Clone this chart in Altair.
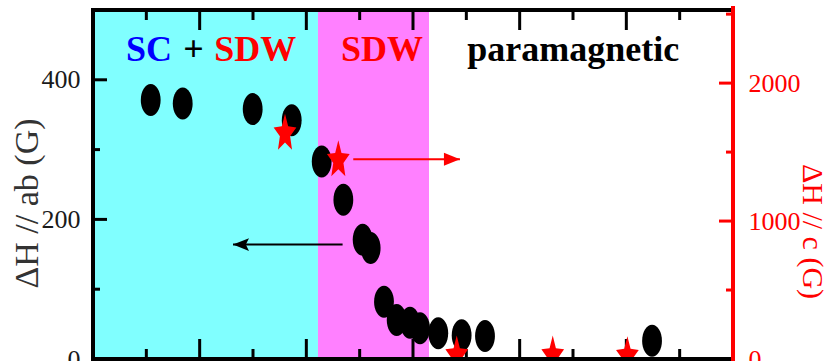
import math
import altair as alt
import pandas as pd

# ---- data -------------------------------------------------------------
# linewidth with field in the ab plane (left axis, black ellipses)
ab_x = [0.541, 0.841, 1.497, 1.863, 2.144, 2.347, 2.528, 2.603, 2.728,
        2.847, 2.972, 3.066, 3.237, 3.456, 3.675, 5.241]
ab_dh = [371, 366, 358, 342, 283, 228, 171, 159, 82, 56, 52, 44, 37, 34, 33, 26]

# linewidth with field along c (right axis, red stars)
c_x = [1.80, 2.30, 3.41, 4.31, 5.01]
c_dh = [1648, 1455, 40, 40, 35]

# shaded phase regions
region_start = [0.0, 2.109]
region_end = [2.109, 3.15]
region_color = ["#80FFFF", "#FF80FF"]

# phase labels
label_text = ["SC", "+", "SDW", "SDW", "paramagnetic"]
label_x = [0.524, 0.942, 1.522, 2.709, 4.503]
label_color = ["#0000FF", "#000000", "#FF0000", "#FF0000", "#000000"]
label_y = 427

# arrows pointing each series to its axis
arrow_ab = {"x": 2.34, "x2": 1.3125, "y": 164}
arrow_c = {"x": 2.44, "x2": 3.44, "y": 1448}

# scales and ticks
x_domain = [0, 6]
ab_domain = [0, 500]
c_domain = [0, 2530]
x_major = [1, 2, 3, 4, 5]
x_minor = [0.5, 1.5, 2.5, 3.5, 4.5, 5.5]
ab_labels = [0, 200, 400]
ab_major = [200, 400]
ab_minor = [100, 300]
c_labels = [0, 1000, 2000]
c_major = [1000, 2000]
c_minor = [500, 1500, 2500]

W, H = 640, 349
SERIF = "Liberation Serif"


# ---- symbol shapes ----------------------------------------------------
def star_path(x_scale=0.6, inner=0.45):
    pts = []
    for i in range(10):
        ang = math.radians(-90 + 36 * i)
        r = 1.0 if i % 2 == 0 else inner
        pts.append((r * math.cos(ang) * x_scale, r * math.sin(ang) + 0.0955))
    return "M " + " L ".join(f"{x:.3f},{y:.3f}" for x, y in pts) + " Z"


ELLIPSE = "M -0.62,0 A 0.62,1 0 1,1 0.62,0 A 0.62,1 0 1,1 -0.62,0 Z"
STAR = star_path()
HEAD_RIGHT = "M 0,0 L -2,-0.8 L -2,0.8 Z"
HEAD_LEFT = "M 0,0 L 2,-0.8 L 1.6,0 L 2,0.8 Z"

xs = alt.Scale(domain=x_domain, nice=False, zero=False)
ys_ab = alt.Scale(domain=ab_domain, nice=False, zero=False)
ys_c = alt.Scale(domain=c_domain, nice=False, zero=False)


def X(field):
    return alt.X(field, type="quantitative", scale=xs, axis=None)


def X2(field):
    return alt.X2(field)


def Y_ab(field, axis=None):
    if axis is None:
        return alt.Y(field, type="quantitative", scale=ys_ab, axis=None)
    return alt.Y(field, type="quantitative", scale=ys_ab, axis=axis)


def Y_c(field, axis=None):
    if axis is None:
        return alt.Y(field, type="quantitative", scale=ys_c, axis=None)
    return alt.Y(field, type="quantitative", scale=ys_c, axis=axis)


one = pd.DataFrame({"k": [0]})

# ---- background, labels, ticks -----------------------------------------
regions = alt.Chart(pd.DataFrame({"x": region_start, "x2": region_end,
                                  "c": region_color})).mark_rect().encode(
    x=X("x"), x2=X2("x2"), y=alt.value(0), y2=alt.value(H),
    color=alt.Color("c:N", scale=None),
)

labels = alt.Chart(pd.DataFrame({"t": label_text, "x": label_x,
                                 "c": label_color,
                                 "y": [label_y] * len(label_text)})).mark_text(
    font=SERIF, fontWeight="bold", fontSize=36, baseline="alphabetic",
    align="center",
).encode(x=X("x"), y=Y_ab("y"), text="t:N", color=alt.Color("c:N", scale=None))

x_tick_major = alt.Chart(pd.DataFrame({"x": x_major}))
x_tick_minor = alt.Chart(pd.DataFrame({"x": x_minor}))
ticks_x = [
    x_tick_major.mark_rule(color="black", strokeWidth=3).encode(
        x=X("x"), y=alt.value(0), y2=alt.value(20)),
    x_tick_major.mark_rule(color="black", strokeWidth=3).encode(
        x=X("x"), y=alt.value(H), y2=alt.value(H - 20)),
    x_tick_minor.mark_rule(color="black", strokeWidth=3).encode(
        x=X("x"), y=alt.value(0), y2=alt.value(10)),
    x_tick_minor.mark_rule(color="black", strokeWidth=3).encode(
        x=X("x"), y=alt.value(H), y2=alt.value(H - 10)),
]

ticks_ab = [
    alt.Chart(pd.DataFrame({"y": ab_major})).mark_rule(
        color="black", strokeWidth=3).encode(
        y=Y_ab("y"), x=alt.value(0), x2=alt.value(14)),
    alt.Chart(pd.DataFrame({"y": ab_minor})).mark_rule(
        color="black", strokeWidth=3).encode(
        y=Y_ab("y"), x=alt.value(0), x2=alt.value(7)),
]

ticks_c = [
    alt.Chart(pd.DataFrame({"y": c_major})).mark_rule(
        color="red", strokeWidth=3).encode(
        y=Y_c("y"), x=alt.value(W), x2=alt.value(W - 14)),
    alt.Chart(pd.DataFrame({"y": c_minor})).mark_rule(
        color="red", strokeWidth=3).encode(
        y=Y_c("y"), x=alt.value(W), x2=alt.value(W - 7)),
]

# ---- arrows -------------------------------------------------------------
arrow_ab_df = pd.DataFrame([arrow_ab])
arrow_left = [
    alt.Chart(arrow_ab_df).mark_rule(color="black", strokeWidth=2).encode(
        x=X("x"), x2=X2("x2"), y=Y_ab("y")),
    alt.Chart(arrow_ab_df).mark_point(
        shape=HEAD_LEFT, filled=True, size=256, color="black", opacity=1,
    ).encode(x=X("x2"), y=Y_ab("y")),
]

arrow_c_df = pd.DataFrame([arrow_c])
arrow_right = [
    alt.Chart(arrow_c_df).mark_rule(color="red", strokeWidth=2).encode(
        x=X("x"), x2=X2("x2"), y=Y_c("y")),
    alt.Chart(arrow_c_df).mark_point(
        shape=HEAD_RIGHT, filled=True, size=256, color="red", opacity=1,
    ).encode(x=X("x2"), y=Y_c("y")),
]

# ---- data series with their axes ---------------------------------------
ab_axis = alt.Axis(
    orient="left", values=ab_labels, format="d", ticks=False, domain=False,
    grid=False, labelFont=SERIF, labelFontSize=26, labelColor="#1a1a1a",
    labelPadding=13,
    title="ΔH // ab (G)", titleFont=SERIF, titleFontSize=34,
    titleFontWeight="normal", titleColor="#333333", titleAngle=270,
    titleX=-66, titleY=193, titleAlign="center", titleBaseline="middle",
)

points_ab = alt.Chart(pd.DataFrame({"x": ab_x, "y": ab_dh})).mark_point(
    shape=ELLIPSE, filled=True, size=1024, color="black", opacity=1,
).encode(x=X("x"), y=Y_ab("y", ab_axis))

c_axis = alt.Axis(
    orient="right", values=c_labels, format="d", ticks=False, domain=False,
    grid=False, labelFont=SERIF, labelFontSize=26, labelColor="#FF0000",
    labelPadding=15,
    title="ΔH // c (G)", titleFont=SERIF, titleFontSize=30,
    titleFontWeight="normal", titleColor="#FF0000", titleAngle=90,
    titleX=78, titleY=221, titleAlign="center", titleBaseline="middle",
)

stars_c = alt.Chart(pd.DataFrame({"x": c_x, "y": c_dh})).mark_point(
    shape=STAR, filled=True, size=1584, color="#FF0000", opacity=1, clip=True,
).encode(x=X("x"), y=Y_c("y", c_axis))

# plot frame: black on three sides, red on the right-hand axis
frame = [
    alt.Chart(one).mark_rule(color="black", strokeWidth=4).encode(
        x=alt.value(0), x2=alt.value(W), y=alt.value(0)),
    alt.Chart(one).mark_rule(color="black", strokeWidth=4).encode(
        x=alt.value(0), x2=alt.value(W), y=alt.value(H)),
    alt.Chart(one).mark_rule(color="black", strokeWidth=4).encode(
        x=alt.value(0), y=alt.value(-2), y2=alt.value(H + 2)),
    alt.Chart(one).mark_rule(color="#FF0000", strokeWidth=4).encode(
        x=alt.value(W), y=alt.value(-4), y2=alt.value(H + 2)),
]

layers = ([regions, labels] + ticks_x + ticks_ab + ticks_c + arrow_left
          + arrow_right + [points_ab, stars_c] + frame)

chart = alt.layer(*layers).resolve_scale(y="independent").properties(
    width=W, height=H,
    autosize=alt.AutoSizeParams(type="none"),
    padding={"left": 93, "top": 10, "right": 96, "bottom": 2},
    background="white",
).configure_view(strokeWidth=0)

chart.save("out.html", embed_options={"renderer": "svg", "actions": False})
